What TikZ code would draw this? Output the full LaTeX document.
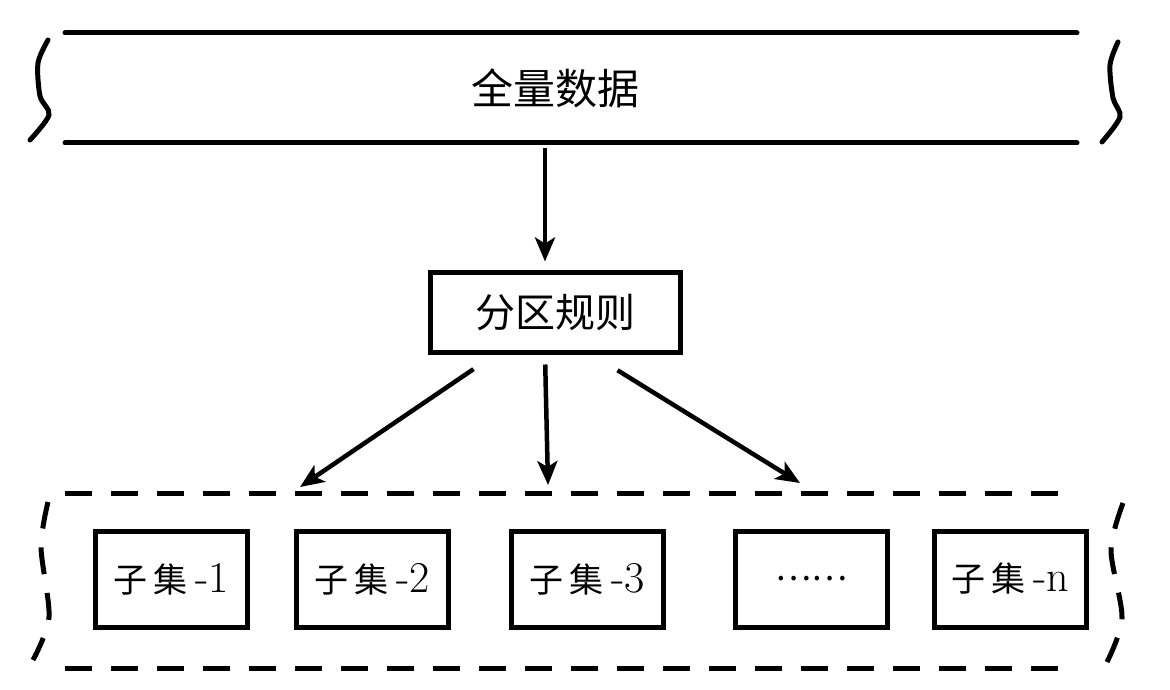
\documentclass[tikz,border=0pt]{standalone}
\usepackage{fontspec}
\newfontfamily\cjk{Noto Sans CJK SC}
\usetikzlibrary{arrows.meta,positioning}
\newcommand{\subsetlabel}[1]{{\cjk 子\hspace{6pt}集}\hspace{8pt}{\fontsize{44}{48}\selectfont -#1}}
\begin{document}
\begin{tikzpicture}[x=1pt, y=-1pt,
    box/.style={draw, line width=5pt, minimum width=152pt, minimum height=96pt, inner sep=2pt, font=\fontsize{34}{40}\selectfont},
    rulebox/.style={box, minimum width=250pt, minimum height=80pt, font=\fontsize{40}{46}\selectfont\cjk},
    arr/.style={-{Stealth[length=24pt, width=20pt, inset=6pt]}, line width=4.5pt},
    edge/.style={line width=5pt, line cap=round},
    dashedge/.style={line width=5pt, dash pattern=on 27pt off 19pt}]
  \useasboundingbox (0,0) rectangle (1170,690);
  % full data band
  \node[minimum height=110pt, font=\fontsize{42}{48}\selectfont\cjk] (full) at (555,88) {全量数据};
  \draw[edge] (65,33) -- (1077,33);
  \draw[edge] (65,143) -- (1077,143);
  \draw[edge] plot[smooth] coordinates {(48,40) (38,63) (40,96) (49,115) (30,140)};
  \draw[edge] plot[smooth] coordinates {(1118,42) (1110,65) (1113,98) (1120,117) (1102,142)};
  % partition rule
  \node[rulebox] (rule) at (555,312) {分区规则};
  \draw[arr, shorten <=5pt, shorten >=8pt] ([xshift=-10pt]full.south) -- ([xshift=-10pt]rule.north);
  % subsets
  \node[box] (s1) at (171,579) {\subsetlabel{1}};
  \node[box, right=44pt of s1] (s2) {\subsetlabel{2}};
  \node[box, right=58pt of s2] (s3) {\subsetlabel{3}};
  \node[box, right=67pt of s3] (s4) {{\cjk ……}};
  \node[box, right=42pt of s4] (s5) {\subsetlabel{n}};
  % dashed container
  \draw[dashedge] (65,493) -- (1065,493);
  \draw[dashedge] (65,668) -- (1065,668);
  \draw[dashedge] plot[smooth] coordinates {(48,502) (41,547) (49,617) (33,660)};
  \draw[dashedge] plot[smooth] coordinates {(1123,503) (1111,550) (1122,618) (1107,662)};
  \coordinate (in1) at (300,487);
  \coordinate (in2) at (548,485);
  \coordinate (in3) at (800,483);
  \draw[arr, shorten <=26pt] ([xshift=-60pt]rule.south) -- (in1);
  \draw[arr, shorten <=10pt] ([xshift=-10pt]rule.south) -- (in2);
  \draw[arr, shorten <=30pt] ([xshift=37pt]rule.south) -- (in3);
\end{tikzpicture}
\end{document}
